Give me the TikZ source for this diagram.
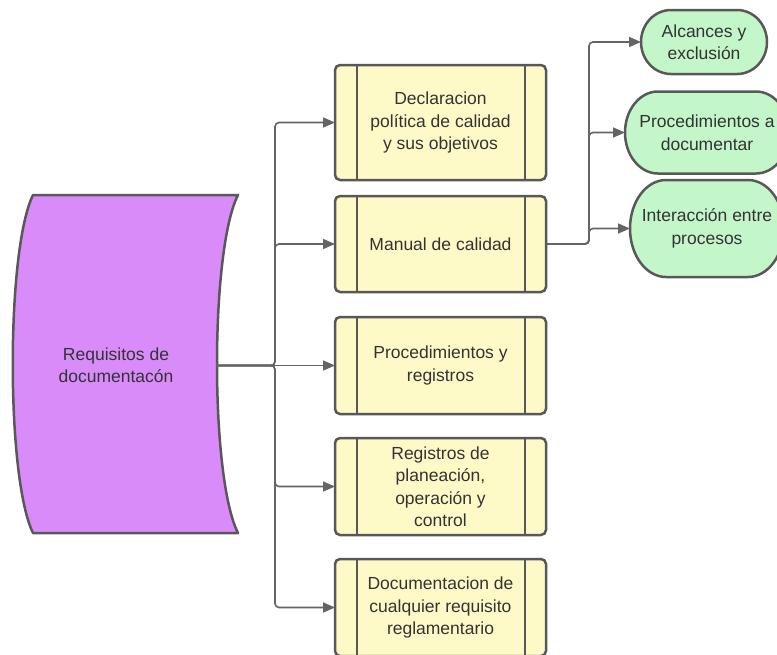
\documentclass[tikz,border=0pt]{standalone}
\usepackage{fontspec}
\setmainfont{Liberation Sans}
\usetikzlibrary{arrows.meta,backgrounds}

\definecolor{txtgray}{RGB}{51,51,51}
\definecolor{edgegray}{RGB}{88,88,88}
\definecolor{linegray}{RGB}{100,100,100}
\definecolor{boxyellow}{RGB}{254,250,200}
\definecolor{reqpurple}{RGB}{218,139,250}
\definecolor{termgreen}{RGB}{195,246,200}

% rounded terminal outline around a node: name, end x-radius, end y-radius
\newcommand\drawterminal[3]{%
  \draw[termshape] ([xshift=#2]#1.north west) -- ([xshift=-#2]#1.north east)
    arc[start angle=90,end angle=-90,x radius=#2,y radius=#3]
    -- ([xshift=#2]#1.south west)
    arc[start angle=270,end angle=90,x radius=#2,y radius=#3] -- cycle;}

\begin{document}
\begin{tikzpicture}[x=1pt,y=-1pt,
  every node/.style={font=\fontsize{17.5}{22.5}\selectfont, text=txtgray, align=center},
  procbox/.style={draw=edgegray, line width=2.5pt, fill=boxyellow, rounded corners=5pt,
                  minimum width=211pt, inner sep=0pt, outer sep=0pt},
  bar/.style={draw=edgegray, line width=2.5pt},
  gnode/.style={inner sep=0pt, outer sep=0pt},
  termshape/.style={draw=edgegray, line width=2.5pt, fill=termgreen},
  reqshape/.style={draw=edgegray, line width=2.5pt, fill=reqpurple, line join=round},
  conn/.style={draw=linegray, line width=1.6pt, rounded corners=4pt,
               -{Triangle[length=12pt,width=10pt]}}]

\useasboundingbox (0,0) rectangle (777,654);

% source document shape
\node (req) at (116,365) {Requisitos de\\documentacón};
\begin{scope}[on background layer]
  \draw[reqshape] (33,195) -- (238,195)
    .. controls (210,250) and (210,478) .. (238,533) -- (33,533)
    .. controls (6,478) and (6,250) .. (33,195) -- cycle;
\end{scope}

% predefined-process boxes
\node[procbox, minimum height=115pt] (b1) at (440.5,122.5) {Declaracion\\política de calidad\\y sus objetivos};
\node[procbox, minimum height=96pt]  (b2) at (440.5,244)   {Manual de calidad};
\node[procbox, minimum height=97pt]  (b3) at (440.5,365.5) {Procedimientos y\\registros};
\node[procbox, minimum height=97pt]  (b4) at (440.5,486.5) {Registros de\\planeación,\\operación y\\control};
\node[procbox, minimum height=97pt]  (b5) at (440.5,607.5) {Documentacion de\\cualquier requisito\\reglamentario};
\foreach \b in {b1,b2,b3,b4,b5}{
  \draw[bar] ([xshift=22pt]\b.north west) -- ([xshift=22pt]\b.south west);
  \draw[bar] ([xshift=-21pt]\b.north east) -- ([xshift=-21pt]\b.south east);
}

% terminal shapes
\node[gnode, minimum width=126pt, minimum height=64pt] (g1) at (704,42)    {Alcances y\\exclusión};
\node[gnode, minimum width=164pt, minimum height=82pt] (g2) at (707,132.5) {Procedimientos a\\documentar};
\node[gnode, minimum width=154pt, minimum height=97pt] (g3) at (707,228.5) {Interacción entre\\procesos};
\begin{scope}[on background layer]
  \drawterminal{g1}{30pt}{32pt}
  \drawterminal{g2}{33pt}{41pt}
  \drawterminal{g3}{36pt}{48.5pt}
\end{scope}

% connectors
\coordinate (reqE)  at (216,365.5);
\coordinate (trunk) at (275,365.5);
\coordinate (fork)  at (589,244);
\draw[conn] (reqE) -- (trunk) |- (b1.west);
\draw[conn] (reqE) -- (trunk) |- (b2.west);
\draw[conn] (reqE) -- (b3.west);
\draw[conn] (reqE) -- (trunk) |- (b4.west);
\draw[conn] (reqE) -- (trunk) |- (b5.west);

\draw[conn] (b2.east) -- (fork) |- (g1.west);
\draw[conn] (b2.east) -- (fork) |- (g2.west);
\draw[conn] (b2.east) -- (fork) |- (g3.west);
\end{tikzpicture}
\end{document}
